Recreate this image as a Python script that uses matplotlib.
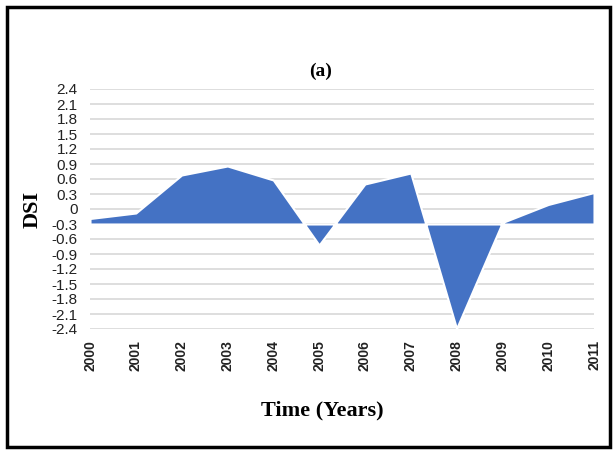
import matplotlib
matplotlib.use("Agg")
import matplotlib.pyplot as plt
from matplotlib.patches import Rectangle
import numpy as np

# DSI per year
years = [2000, 2001, 2002, 2003, 2004, 2005, 2006, 2007, 2008, 2009, 2010, 2011]
dsi = [-0.19, -0.08, 0.68, 0.86, 0.58, -0.72, 0.50, 0.72, -2.39, -0.27, 0.09, 0.33]
y_ticks = [2.4, 2.1, 1.8, 1.5, 1.2, 0.9, 0.6, 0.3, 0, -0.3, -0.6, -0.9,
           -1.2, -1.5, -1.8, -2.1, -2.4]
y_labels = ['2.4', '2.1', '1.8', '1.5', '1.2', '0.9', '0.6', '0.3', '0', '-0.3',
            '-0.6', '-0.9', '-1.2', '-1.5', '-1.8', '-2.1', '-2.4']
base_value = -0.3

fig = plt.figure(figsize=(6.13, 4.5), dpi=100)
ax = fig.add_axes([90 / 613, 1 - 329 / 450, 504 / 613, 240 / 450])

ax.set_xlim(2000, 2011)
ax.set_ylim(-2.4, 2.4)
ax.set_yticks(y_ticks)
ax.set_yticklabels(y_labels, family=['Liberation Sans Narrow', 'Liberation Sans'],
                   fontsize=11, color='#222222')
ax.set_xticks(years)
ax.set_xticklabels([str(y) for y in years], rotation=90, fontsize=10,
                   fontweight='bold', family=['Liberation Sans Narrow', 'Liberation Sans'],
                   color='#222222')
ax.tick_params(length=0)
ax.tick_params(axis='x', pad=8)
ax.tick_params(axis='y', pad=9)
for s in ax.spines.values():
    s.set_visible(False)

ax.yaxis.grid(True, color='#d4d4d4', linewidth=1.1)
ax.set_axisbelow(True)

ax.fill_between(years, dsi, base_value, facecolor='#4472C4',
                edgecolor='white', linewidth=1.5, clip_on=False, zorder=3)

fig.text(321 / 613, 1 - 71 / 450, '(a)', family='Liberation Serif', fontweight='bold',
         fontsize=14, ha='center', va='center')
fig.text(322 / 613, 1 - 410 / 450, 'Time (Years)', family='Liberation Serif',
         fontweight='bold', fontsize=16, ha='center', va='center')
ax.set_ylabel('DSI', family='Liberation Serif', fontweight='bold', fontsize=16, labelpad=6)

# black frame round the whole chart
fig.patches.append(Rectangle((7 / 613, 3 / 450), 603 / 613, 440 / 450,
                             transform=fig.transFigure, fill=False,
                             edgecolor='black', linewidth=2.5))

fig.savefig('out.png', dpi=100)
